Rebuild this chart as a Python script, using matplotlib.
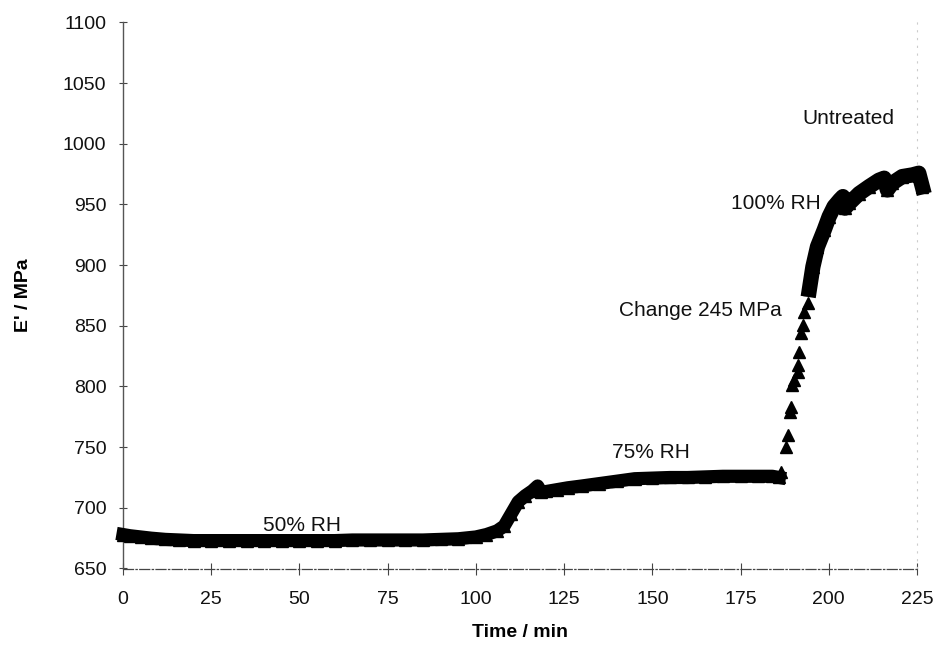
import matplotlib
matplotlib.use("Agg")
import matplotlib.pyplot as plt

plt.rcParams['font.family'] = ['Liberation Sans', 'DejaVu Sans']

# 50% RH -> 75% RH continuous band
t_low = [0, 2, 5, 8, 12, 16, 20, 25, 30, 35, 40, 45, 50, 55, 60, 65, 70, 75, 80,
         85, 90, 95, 100, 103, 106, 108, 110, 112, 114, 116, 117.5, 118.5, 120,
         123, 126, 130, 135, 140, 145, 150, 155, 160, 165, 170, 175, 180, 184, 186]
E_low = [678, 677, 676, 675, 674, 673.5, 673, 673, 673, 673, 673, 673, 673, 673,
         673, 673.5, 673.5, 673.5, 673.5, 673.5, 674, 674.5, 676, 678, 681, 685,
         695, 705, 710, 714, 718, 713, 713.5, 715, 716.5, 718, 720, 722, 724, 724.5,
         725, 725, 725.5, 726, 726, 726, 726, 725]

# step change to 100% RH (separate points)
t_jump = [186.4, 187.9, 188.4, 189.0, 189.3, 189.7, 190.2, 191.2, 191.2, 191.6,
          192.1, 192.6, 193.0, 194.0]
E_jump = [729.5, 750, 759.8, 779, 783, 801, 805, 812, 817.6, 828.6, 843.7, 850.6,
          861.6, 868.5]

# 100% RH band
t_high = [194.5, 195.5, 196.8, 198.7, 200.1, 201.5, 203.1, 204.0, 204.6, 205.8,
          208.6, 211.4, 214.2, 215.7, 216.6, 218.0, 220.8, 223.7, 225.5, 226.5]
E_high = [880, 898.7, 915.2, 929, 940, 948.3, 953.8, 956.5, 947, 951, 959, 964.7,
          970, 971.7, 962, 967.6, 973, 974.4, 975.8, 964.7]

x_ticks = [0, 25, 50, 75, 100, 125, 150, 175, 200, 225]
y_ticks = [650, 700, 750, 800, 850, 900, 950, 1000, 1050, 1100]

annotations = [
    ("50% RH", 50.7, 685.5, 'center'),
    ("75% RH", 149.5, 745.8, 'center'),
    ("100% RH", 197.7, 951, 'right'),
    ("Change 245 MPa", 186.8, 863, 'right'),
    ("Untreated", 205.5, 1020.6, 'center'),
]

fig = plt.figure(figsize=(9.4, 6.46), dpi=100)
ax = fig.add_axes([123 / 940, (646 - 568.5) / 646, (917 - 123) / 940, (568.5 - 22.5) / 646])

ax.plot(t_low, E_low, '-^', color='black', lw=9.5, ms=9, clip_on=False, zorder=3)
ax.plot(t_jump, E_jump, '^', color='black', ms=9, lw=0, clip_on=False, zorder=3)
ax.plot(t_high, E_high, '-^', color='black', lw=11, ms=9, clip_on=False, zorder=3)

ax.set_xlim(0, 225)
ax.set_ylim(650, 1100)
ax.set_xticks(x_ticks)
ax.set_yticks(y_ticks)

ax.spines['top'].set_visible(False)
ax.spines['right'].set_color('#cccccc')
ax.spines['right'].set_linestyle((0, (1, 6)))
ax.spines['right'].set_linewidth(0.8)
ax.spines['left'].set_color('#555555')
ax.spines['left'].set_linewidth(1.0)
ax.spines['bottom'].set_color('#444444')
ax.spines['bottom'].set_linestyle((0, (8, 2, 1, 2)))
ax.spines['bottom'].set_linewidth(0.9)

ax.tick_params(axis='x', direction='inout', length=8, width=0.8, color='#444444',
               labelsize=14, pad=12, labelcolor='#111111')
ax.tick_params(axis='y', direction='inout', length=6, width=0.8, color='#444444',
               labelsize=14, pad=9, labelcolor='#111111')

ax.set_xlabel("Time / min", fontsize=14, fontweight='bold')
ax.xaxis.set_label_coords(0.5, -0.118)
ax.xaxis.label.set_verticalalignment('center')
ax.set_ylabel("E' / MPa", fontsize=14, fontweight='bold')
ax.yaxis.set_label_coords(-0.125, 0.5)
ax.yaxis.label.set_verticalalignment('center')

for txt, x, y, ha in annotations:
    ax.text(x, y, txt, fontsize=15, ha=ha, va='center', color='#111111')

fig.savefig("out.png", dpi=100)
